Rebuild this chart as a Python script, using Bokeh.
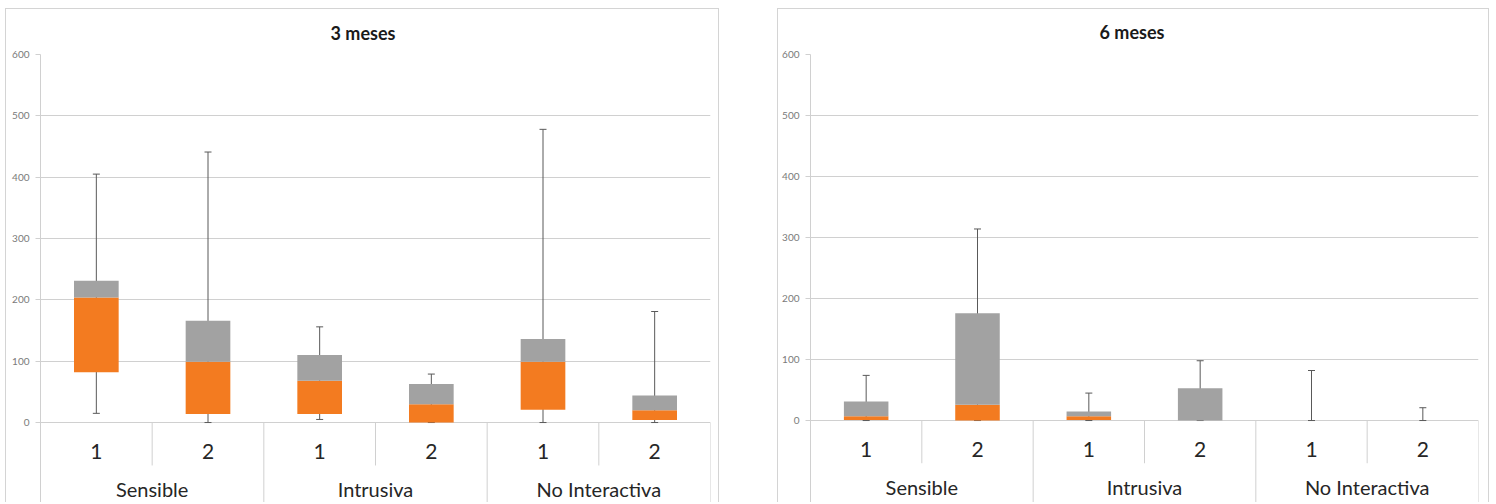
from bokeh.plotting import figure
from bokeh.models import FactorRange, Range1d, FixedTicker, Spacer
from bokeh.layouts import row, column
from bokeh.embed import file_html
from bokeh.resources import INLINE

groups = ["Sensible", "Intrusiva", "No Interactiva"]
subgroups = ["1", "2"]
y_ticks = [0, 100, 200, 300, 400, 500, 600]

# 3 meses (box: q1 -> median orange, median -> q3 gray; whiskers min..max)
m3_min = [15, 0, 5, 0, 0, 0]
m3_q1 = [82, 14, 14, 0, 21, 4]
m3_median = [204, 99, 68, 30, 99, 20]
m3_q3 = [231, 166, 110, 63, 136, 44]
m3_max = [405, 441, 156, 79, 478, 181]

# 6 meses
m6_min = [0, 0, 0, 0, 0, 0]
m6_q1 = [1, 0, 1, 0, 0, 0]
m6_median = [7, 26, 7, 0, 0, 0]
m6_q3 = [31, 176, 15, 53, 0, 0]
m6_max = [74, 314, 45, 98, 82, 21]

ORANGE = "#F37B20"
GRAY = "#A2A2A2"
GRID = "#d0d0d0"
WHISK = "#595959"
FONT = "Lato"


def make_panel(title, mins, q1, med, q3, maxs, width, left_b, right_b, top_b,
               y_start, title_offset, title_standoff):
    factors = [(g, s) for g in groups for s in subgroups]
    p = figure(x_range=FactorRange(*factors, factor_padding=0, group_padding=0,
                                   subgroup_padding=0, range_padding=0),
               y_range=Range1d(y_start, 600), width=width, height=494,
               output_backend="svg", toolbar_location=None,
               min_border_left=left_b, min_border_right=right_b,
               min_border_top=top_b, min_border_bottom=0)
    p.title.text = title
    p.title.align = "left"
    p.title.offset = title_offset
    p.title.vertical_align = "middle"
    p.title.text_font = FONT
    p.title.text_font_size = "18px"
    p.title.text_font_style = "bold"
    p.title.text_color = "#1a1a1a"
    p.title.standoff = title_standoff

    # separators in the category band (computed from factor boundaries)
    n = len(factors)
    k = len(subgroups)
    sx, sy0, sy1 = [], [], []
    for i in range(1, n + 1):
        sx.append(i)
        sy0.append(0)
        sy1.append(y_start if i % k == 0 else -70)
    p.segment(x0=sx, y0=sy0, x1=sx, y1=sy1, line_color=GRID, line_width=1)

    # whiskers
    p.segment(x0=factors, y0=mins, x1=factors, y1=maxs, line_color=WHISK, line_width=1)
    p.scatter(x=factors + factors, y=maxs + mins, marker="dash", size=7,
              line_color=WHISK, line_width=1)
    # boxes
    p.vbar(x=factors, bottom=q1, top=med, width=0.4, fill_color=ORANGE, line_color=None)
    p.vbar(x=factors, bottom=med, top=q3, width=0.4, fill_color=GRAY, line_color=None)

    p.xgrid.visible = False
    p.ygrid.grid_line_color = GRID
    p.outline_line_color = None

    p.yaxis.ticker = FixedTicker(ticks=y_ticks)
    p.yaxis.axis_line_color = GRID
    p.yaxis.major_tick_line_color = GRID
    p.yaxis.major_tick_out = 5
    p.yaxis.major_tick_in = 0
    p.yaxis.minor_tick_line_color = None
    p.yaxis.major_label_text_font = FONT
    p.yaxis.major_label_text_font_size = "10px"
    p.yaxis.major_label_text_color = "#7a7a7a"
    p.yaxis.major_label_standoff = 6

    xa = p.xaxis[0]
    xa.fixed_location = 0
    xa.axis_line_color = None
    xa.major_tick_line_color = None
    xa.separator_line_color = None
    xa.major_label_text_font = FONT
    xa.major_label_text_font_size = "21px"
    xa.major_label_text_color = "#262626"
    xa.major_label_standoff = 15
    xa.group_text_font = FONT
    xa.group_text_font_size = "20px"
    xa.group_text_font_style = "normal"
    xa.group_text_color = "#262626"
    p.styles = {"border": "1px solid #d4d4d4", "border-bottom": "none"}
    return p


p1 = make_panel("3 meses", m3_min, m3_q1, m3_median, m3_q3, m3_max,
                714, 34, 10, 44, -132, 290, 20)
p2 = make_panel("6 meses", m6_min, m6_q1, m6_median, m6_q3, m6_max,
                712, 32, 12, 45, -136, 289, 21)

layout = column(Spacer(height=8),
                row(Spacer(width=5), p1, Spacer(width=58), p2))
open("out.html", "w").write(file_html(layout, INLINE))
